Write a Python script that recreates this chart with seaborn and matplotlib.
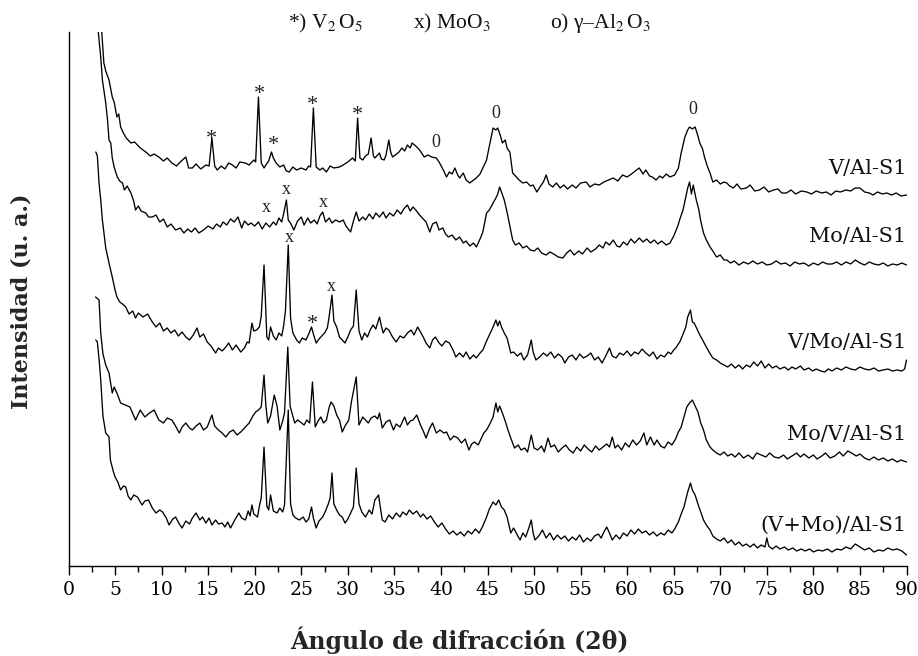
import matplotlib
matplotlib.use("Agg")
import matplotlib.pyplot as plt
from matplotlib.ticker import MultipleLocator
import seaborn as sns
import pandas as pd

# ---------------- data (2theta in degrees, intensity in a.u., stacked) ----------------
samples = ["V/Al-S1", "Mo/Al-S1", "V/Mo/Al-S1", "Mo/V/Al-S1", "(V+Mo)/Al-S1"]

v_al = [(3.35, 580), (3.57, 534), (3.8, 503), (4.0, 495), (4.35, 486), (4.7, 469), (4.9, 464), (5.2, 449),
        (5.4, 452), (5.6, 439), (5.9, 433), (6.2, 428), (6.7, 423), (7.1, 424), (7.6, 419), (8.0, 416),
        (8.3, 414), (8.8, 410), (9.2, 412), (9.7, 409), (10.2, 405), (10.6, 408), (11.1, 403), (11.6, 400),
        (12.0, 404), (12.6, 409), (12.9, 398), (13.3, 398), (13.7, 402), (14.2, 397), (14.75, 401), (15.1, 400),
        (15.4, 428), (15.7, 400), (15.97, 396), (16.4, 400), (16.8, 397), (17.2, 403), (17.6, 401), (18.0, 398),
        (18.4, 404), (19.0, 403), (19.4, 401), (19.9, 406), (20.1, 404), (20.4, 469), (20.7, 403), (21.0, 398),
        (21.2, 401), (21.5, 405), (21.8, 414), (22.0, 408), (22.3, 403), (22.7, 399), (23.1, 401), (23.4, 395),
        (23.7, 394), (24.1, 399), (24.5, 396), (25.0, 398), (25.5, 396), (25.8, 400), (26.0, 399), (26.3, 458),
        (26.6, 399), (27.0, 396), (27.3, 398), (27.7, 394), (28.1, 400), (28.5, 398), (29.1, 399), (29.5, 401),
        (30.0, 404), (30.5, 408), (30.8, 405), (31.05, 448), (31.3, 408), (31.6, 406), (31.9, 410), (32.2, 412),
        (32.5, 428), (32.75, 410), (32.9, 408), (33.2, 411), (33.4, 413), (33.6, 407), (33.9, 406), (34.1, 411),
        (34.4, 426), (34.6, 414), (34.8, 409), (35.1, 411), (35.5, 414), (35.8, 418), (36.1, 415), (36.4, 421),
        (36.7, 418), (36.9, 423), (37.3, 420), (37.7, 416), (38.0, 412), (38.2, 409), (38.6, 411), (39.0, 409),
        (39.5, 408), (39.8, 404), (40.2, 397), (40.6, 389), (40.9, 394), (41.2, 392), (41.5, 398), (41.8, 391),
        (42.0, 388), (42.4, 393), (42.7, 386), (43.1, 383), (43.5, 386), (43.8, 388), (44.2, 392), (44.5, 398),
        (44.9, 406), (45.2, 420), (45.6, 438), (45.9, 436), (46.1, 438), (46.4, 430), (46.6, 423), (46.9, 426),
        (47.1, 418), (47.4, 414), (47.7, 393), (48.0, 390), (48.4, 386), (48.8, 383), (49.2, 384), (49.6, 380),
        (49.9, 381), (50.3, 374), (50.7, 380), (51.0, 384), (51.3, 391), (51.6, 382), (52.0, 379), (52.4, 383),
        (52.8, 378), (53.2, 381), (53.6, 377), (54.1, 381), (54.5, 378), (55.0, 383), (55.6, 384), (56.0, 379),
        (56.5, 382), (57.0, 381), (57.5, 384), (58.0, 386), (58.5, 388), (59.0, 385), (59.5, 391), (60.0, 389),
        (60.6, 393), (61.0, 396), (61.3, 398), (61.7, 392), (62.0, 396), (62.4, 390), (62.7, 389), (63.1, 386),
        (63.5, 390), (63.8, 388), (64.2, 392), (64.6, 389), (65.1, 391), (65.5, 398), (65.8, 413), (66.2, 429),
        (66.5, 436), (66.7, 439), (67.0, 437), (67.3, 439), (67.6, 430), (67.8, 423), (68.1, 417), (68.3, 409),
        (68.6, 400), (68.9, 393), (69.2, 384), (69.6, 386), (70.0, 382), (70.4, 384), (70.7, 383), (71.0, 380),
        (71.4, 378), (71.8, 382), (72.2, 377), (72.8, 378), (73.2, 381), (73.7, 375), (74.2, 376), (74.7, 379),
        (75.2, 374), (75.7, 376), (76.2, 377), (76.6, 373), (77.1, 373), (77.6, 376), (78.1, 372), (78.7, 375),
        (79.3, 374), (79.8, 372), (80.3, 375), (80.9, 373), (81.4, 374), (81.9, 371), (82.4, 375), (82.9, 374),
        (83.5, 376), (84.0, 375), (84.5, 378), (85.0, 378), (85.5, 374), (86.0, 373), (86.4, 371), (86.9, 374),
        (87.4, 372), (87.9, 373), (88.4, 371), (88.9, 373), (89.4, 370), (90.0, 371)]

mo_al = [(3.0, 580), (3.2, 534), (3.46, 509), (3.64, 486), (4.0, 463), (4.2, 445), (4.35, 426), (4.54, 423),
         (4.7, 408), (4.9, 399), (5.1, 393), (5.25, 389), (5.5, 385), (5.8, 383), (6.0, 376), (6.3, 380),
         (6.7, 373), (7.0, 365), (7.2, 356), (7.5, 360), (7.8, 355), (8.3, 353), (8.6, 349), (9.0, 349),
         (9.4, 351), (9.8, 344), (10.2, 347), (10.6, 339), (11.0, 342), (11.5, 336), (12.0, 338), (12.4, 333),
         (12.8, 337), (13.2, 334), (13.6, 338), (14.0, 333), (14.5, 336), (15.0, 340), (15.5, 337), (15.9, 342),
         (16.3, 339), (16.6, 344), (17.0, 341), (17.4, 347), (17.8, 344), (18.2, 349), (18.6, 338), (18.9, 345),
         (19.3, 341), (19.6, 343), (20.0, 340), (20.4, 344), (20.8, 337), (21.2, 343), (21.6, 339), (22.0, 344),
         (22.3, 341), (22.6, 348), (22.9, 344), (23.1, 352), (23.4, 366), (23.6, 346), (23.9, 342), (24.2, 336),
         (24.6, 345), (25.0, 349), (25.3, 341), (25.7, 348), (26.0, 343), (26.4, 346), (26.7, 342), (27.0, 350),
         (27.3, 354), (27.6, 344), (28.0, 348), (28.3, 343), (28.7, 346), (29.1, 344), (29.5, 346), (29.8, 340),
         (30.3, 334), (30.6, 345), (30.9, 354), (31.2, 345), (31.6, 349), (31.9, 346), (32.3, 352), (32.7, 347),
         (33.0, 353), (33.4, 349), (33.8, 354), (34.1, 348), (34.5, 353), (34.9, 350), (35.3, 356), (35.7, 352),
         (36.0, 357), (36.4, 361), (36.7, 355), (37.0, 359), (37.3, 356), (37.7, 351), (38.0, 348), (38.4, 344),
         (38.8, 334), (39.1, 342), (39.5, 344), (39.8, 336), (40.2, 338), (40.5, 332), (40.8, 329), (41.2, 331),
         (41.6, 326), (42.0, 329), (42.4, 323), (42.7, 325), (43.1, 320), (43.5, 323), (43.8, 319), (44.2, 327),
         (44.5, 334), (44.9, 353), (45.2, 356), (45.6, 363), (45.9, 368), (46.1, 372), (46.3, 379), (46.5, 374),
         (46.8, 366), (47.1, 354), (47.4, 340), (47.7, 326), (48.0, 321), (48.4, 323), (48.8, 318), (49.2, 320),
         (49.6, 316), (50.0, 315), (50.4, 318), (50.8, 313), (51.3, 311), (51.7, 314), (52.1, 312), (52.6, 309),
         (53.1, 308), (53.5, 313), (53.9, 316), (54.3, 311), (54.8, 315), (55.2, 312), (55.7, 318), (56.1, 314),
         (56.6, 317), (57.0, 321), (57.4, 318), (57.7, 324), (58.1, 321), (58.5, 326), (58.9, 320), (59.2, 319),
         (59.6, 324), (60.0, 321), (60.4, 327), (60.8, 323), (61.3, 328), (61.7, 324), (62.1, 327), (62.5, 323),
         (62.9, 326), (63.3, 322), (63.7, 325), (64.2, 321), (64.6, 323), (65.0, 330), (65.4, 339), (65.7, 348),
         (66.0, 356), (66.3, 369), (66.5, 378), (66.7, 384), (66.9, 372), (67.1, 381), (67.4, 367), (67.7, 356),
         (67.9, 345), (68.2, 333), (68.5, 326), (68.9, 319), (69.2, 315), (69.6, 309), (70.0, 311), (70.4, 306),
         (70.7, 306), (71.1, 303), (71.5, 305), (72.0, 301), (72.5, 304), (73.0, 302), (73.5, 305), (74.0, 302),
         (74.5, 304), (75.0, 301), (75.5, 302), (76.0, 305), (76.5, 302), (77.0, 303), (77.5, 300), (78.0, 304),
         (78.5, 302), (79.0, 303), (79.5, 300), (80.0, 303), (80.5, 301), (81.0, 304), (81.5, 302), (82.0, 302),
         (82.5, 304), (83.0, 301), (83.5, 304), (84.0, 302), (84.5, 306), (85.0, 303), (85.5, 301), (86.0, 304),
         (86.5, 302), (87.0, 301), (87.5, 303), (88.0, 300), (88.5, 302), (89.0, 301), (89.5, 303), (90.0, 301)]

v_mo_al = [(2.93, 414), (3.1, 410), (3.28, 383), (3.46, 366), (3.64, 346), (4.0, 318), (4.35, 303), (4.7, 289),
           (5.0, 276), (5.2, 269), (5.5, 264), (5.8, 262), (6.15, 259), (6.5, 252), (6.9, 255), (7.2, 248),
           (7.5, 253), (8.0, 249), (8.5, 252), (9.0, 244), (9.4, 239), (9.8, 243), (10.2, 235), (10.6, 238),
           (11.0, 233), (11.4, 236), (11.8, 230), (12.2, 234), (12.6, 229), (13.0, 226), (13.4, 231), (13.8, 238),
           (14.1, 229), (14.5, 232), (14.9, 224), (15.3, 220), (15.8, 213), (16.1, 218), (16.5, 215), (16.9, 219),
           (17.2, 223), (17.6, 216), (18.0, 221), (18.5, 214), (18.9, 218), (19.2, 224), (19.4, 223), (19.7, 243),
           (19.9, 235), (20.2, 236), (20.5, 239), (20.7, 250), (21.0, 301), (21.3, 229), (21.5, 226), (21.7, 239),
           (22.0, 230), (22.3, 226), (22.6, 233), (22.9, 230), (23.1, 240), (23.3, 255), (23.6, 321), (23.85, 248),
           (24.1, 233), (24.5, 226), (24.8, 223), (25.1, 228), (25.5, 226), (25.8, 232), (26.1, 239), (26.3, 232),
           (26.6, 223), (26.9, 227), (27.2, 230), (27.5, 233), (27.8, 238), (28.0, 250), (28.3, 271), (28.5, 245),
           (28.8, 239), (29.1, 229), (29.4, 226), (29.7, 223), (30.0, 229), (30.3, 236), (30.6, 240), (30.9, 276),
           (31.2, 235), (31.5, 226), (31.8, 233), (32.1, 229), (32.4, 236), (32.7, 241), (33.0, 237), (33.4, 249),
           (33.6, 240), (33.8, 233), (34.1, 238), (34.4, 236), (34.8, 229), (35.2, 224), (35.6, 230), (36.0, 228),
           (36.4, 233), (36.8, 236), (37.1, 231), (37.5, 239), (37.8, 234), (38.1, 229), (38.4, 223), (38.8, 218),
           (39.1, 226), (39.4, 229), (39.8, 223), (40.1, 220), (40.5, 225), (40.9, 223), (41.3, 216), (41.6, 209),
           (42.0, 213), (42.4, 209), (42.7, 214), (43.1, 207), (43.5, 211), (43.8, 208), (44.2, 213), (44.5, 216),
           (44.9, 225), (45.3, 233), (45.6, 239), (45.9, 246), (46.1, 240), (46.3, 245), (46.5, 239), (46.8, 233),
           (47.1, 228), (47.5, 213), (47.8, 214), (48.2, 210), (48.6, 213), (48.9, 206), (49.3, 211), (49.7, 226),
           (49.9, 214), (50.2, 206), (50.6, 209), (51.0, 213), (51.4, 210), (51.8, 214), (52.2, 208), (52.6, 212),
           (53.0, 209), (53.3, 203), (53.7, 209), (54.1, 211), (54.5, 206), (54.9, 212), (55.3, 208), (55.7, 210),
           (56.1, 213), (56.5, 206), (56.9, 209), (57.3, 203), (57.7, 210), (58.1, 218), (58.4, 210), (58.8, 208),
           (59.2, 213), (59.6, 211), (60.0, 215), (60.4, 210), (60.8, 214), (61.2, 212), (61.6, 217), (62.0, 213),
           (62.4, 210), (62.8, 214), (63.2, 207), (63.6, 211), (64.0, 209), (64.4, 214), (64.7, 212), (65.0, 216),
           (65.3, 219), (65.7, 225), (66.0, 232), (66.3, 239), (66.5, 249), (66.8, 256), (67.0, 244), (67.2, 243),
           (67.5, 237), (67.8, 231), (68.1, 226), (68.5, 219), (68.8, 214), (69.2, 208), (69.6, 206), (70.0, 203),
           (70.4, 201), (70.8, 199), (71.2, 202), (71.6, 198), (72.0, 201), (72.4, 197), (72.8, 201), (73.2, 199),
           (73.6, 204), (74.0, 200), (74.4, 205), (74.8, 198), (75.2, 202), (75.6, 198), (76.0, 200), (76.4, 197),
           (76.9, 199), (77.3, 196), (77.7, 199), (78.1, 197), (78.6, 200), (79.0, 196), (79.5, 198), (79.9, 195),
           (80.3, 197), (80.8, 195), (81.2, 194), (81.6, 197), (82.0, 195), (82.5, 198), (83.0, 196), (83.5, 199),
           (84.0, 197), (84.5, 196), (85.0, 199), (85.5, 197), (86.0, 196), (86.5, 198), (87.0, 195), (87.5, 196),
           (88.0, 197), (88.5, 195), (89.0, 196), (89.5, 195), (89.8, 197), (90.0, 206)]

mo_v_al = [(2.9, 269), (3.28, 266), (3.46, 233), (3.7, 212), (4.0, 201), (4.35, 193), (4.7, 173), (4.9, 179),
           (5.2, 173), (5.6, 163), (6.1, 161), (6.6, 159), (7.2, 146), (7.7, 156), (8.2, 149), (8.7, 153),
           (9.2, 156), (9.7, 146), (10.2, 143), (10.6, 148), (11.1, 146), (11.5, 140), (11.9, 133), (12.2, 139),
           (12.6, 143), (13.0, 138), (13.3, 136), (13.7, 140), (14.1, 143), (14.5, 136), (14.9, 139), (15.4, 151),
           (15.7, 140), (16.1, 136), (16.5, 133), (16.9, 129), (17.3, 134), (17.7, 136), (18.1, 131), (18.5, 134),
           (18.9, 138), (19.4, 143), (19.8, 150), (20.1, 154), (20.4, 156), (20.7, 159), (21.0, 191), (21.2, 160),
           (21.4, 143), (21.7, 150), (22.1, 171), (22.4, 160), (22.7, 136), (23.0, 145), (23.2, 153), (23.55, 219),
           (23.8, 160), (24.0, 153), (24.3, 143), (24.6, 146), (24.9, 144), (25.3, 141), (25.6, 146), (25.9, 143),
           (26.2, 184), (26.5, 139), (26.8, 145), (27.1, 149), (27.4, 143), (27.7, 146), (28.0, 159), (28.2, 164),
           (28.5, 160), (28.8, 151), (29.1, 146), (29.4, 134), (29.7, 140), (30.1, 146), (30.4, 165), (30.9, 189),
           (31.2, 141), (31.6, 149), (31.9, 146), (32.2, 143), (32.5, 148), (32.9, 150), (33.2, 147), (33.4, 153),
           (33.7, 138), (34.1, 144), (34.5, 146), (34.9, 136), (35.2, 142), (35.6, 139), (36.1, 149), (36.4, 141),
           (36.7, 145), (37.0, 146), (37.4, 151), (37.8, 141), (38.1, 135), (38.4, 128), (38.8, 138), (39.1, 143),
           (39.5, 133), (39.9, 136), (40.3, 133), (40.6, 134), (41.0, 126), (41.4, 130), (41.8, 128), (42.2, 123),
           (42.6, 127), (43.0, 116), (43.3, 122), (43.6, 124), (44.0, 121), (44.3, 127), (44.6, 133), (44.9, 136),
           (45.3, 143), (45.6, 149), (45.9, 163), (46.1, 154), (46.3, 160), (46.6, 153), (46.9, 145), (47.2, 136),
           (47.5, 128), (47.9, 118), (48.3, 121), (48.6, 116), (49.0, 118), (49.3, 114), (49.7, 131), (50.0, 118),
           (50.4, 116), (50.8, 120), (51.1, 114), (51.5, 128), (51.8, 119), (52.2, 121), (52.6, 114), (53.0, 118),
           (53.4, 121), (53.8, 116), (54.2, 113), (54.6, 119), (55.0, 115), (55.4, 121), (55.8, 117), (56.2, 114),
           (56.6, 120), (57.0, 116), (57.4, 119), (57.8, 122), (58.1, 119), (58.4, 129), (58.7, 118), (59.0, 121),
           (59.4, 116), (59.8, 123), (60.2, 119), (60.6, 126), (61.0, 121), (61.4, 125), (61.8, 133), (62.1, 121),
           (62.5, 129), (62.9, 121), (63.2, 126), (63.6, 120), (64.0, 118), (64.4, 124), (64.8, 121), (65.2, 127),
           (65.5, 134), (65.8, 139), (66.1, 149), (66.4, 159), (66.7, 163), (67.0, 166), (67.3, 160), (67.6, 154),
           (67.9, 143), (68.2, 136), (68.5, 126), (68.9, 119), (69.2, 116), (69.6, 113), (70.0, 111), (70.4, 114),
           (70.8, 110), (71.2, 112), (71.6, 109), (72.0, 113), (72.5, 108), (73.0, 111), (73.5, 107), (73.9, 113),
           (74.4, 111), (74.9, 109), (75.3, 113), (75.8, 109), (76.3, 108), (76.8, 111), (77.2, 107), (77.7, 110),
           (78.2, 113), (78.6, 109), (79.0, 112), (79.5, 108), (80.0, 111), (80.4, 107), (80.9, 110), (81.3, 113),
           (81.8, 108), (82.3, 110), (82.8, 114), (83.2, 110), (83.7, 115), (84.1, 113), (84.6, 110), (85.0, 112),
           (85.5, 108), (86.0, 106), (86.5, 109), (87.0, 106), (87.5, 108), (88.0, 105), (88.5, 107), (89.0, 104),
           (89.4, 106), (90.0, 104)]

vmo_al = [(2.93, 226), (3.1, 224), (3.3, 205), (3.46, 186), (3.7, 150), (4.0, 133), (4.35, 129), (4.5, 106),
          (4.8, 95), (5.0, 89), (5.3, 84), (5.6, 76), (5.9, 80), (6.15, 79), (6.4, 70), (6.7, 66), (7.0, 71),
          (7.4, 69), (7.9, 61), (8.2, 65), (8.6, 66), (9.0, 58), (9.4, 53), (9.8, 56), (10.1, 54), (10.5, 48),
          (10.8, 41), (11.2, 47), (11.5, 49), (11.9, 42), (12.2, 38), (12.6, 45), (13.0, 42), (13.3, 48),
          (13.7, 53), (14.1, 46), (14.4, 49), (14.75, 43), (15.1, 48), (15.4, 41), (15.8, 46), (16.1, 42),
          (16.5, 43), (16.8, 39), (17.1, 44), (17.4, 38), (17.8, 45), (18.3, 53), (18.6, 48), (19.0, 46),
          (19.3, 55), (19.5, 50), (19.7, 61), (19.9, 52), (20.3, 49), (20.5, 60), (20.7, 68), (21.0, 119),
          (21.3, 60), (21.5, 56), (21.7, 71), (22.0, 55), (22.4, 53), (22.7, 58), (23.0, 54), (23.2, 61),
          (23.6, 156), (23.85, 62), (24.1, 51), (24.4, 48), (24.8, 46), (25.2, 49), (25.5, 44), (25.8, 47),
          (26.1, 59), (26.3, 48), (26.6, 38), (26.9, 45), (27.3, 49), (27.6, 55), (27.9, 62), (28.1, 68),
          (28.3, 93), (28.5, 62), (28.8, 56), (29.1, 51), (29.4, 49), (29.7, 43), (30.0, 47), (30.3, 53),
          (30.6, 59), (30.9, 98), (31.2, 62), (31.5, 54), (31.9, 49), (32.3, 56), (32.6, 52), (32.9, 66),
          (33.3, 71), (33.5, 58), (33.7, 46), (34.0, 44), (34.4, 51), (34.8, 47), (35.2, 53), (35.6, 49),
          (35.9, 54), (36.3, 51), (36.6, 56), (37.0, 52), (37.4, 55), (37.8, 49), (38.1, 52), (38.5, 47),
          (38.9, 50), (39.3, 44), (39.7, 39), (40.1, 43), (40.5, 37), (40.9, 32), (41.3, 35), (41.7, 31),
          (42.1, 34), (42.5, 30), (42.9, 35), (43.3, 32), (43.7, 37), (44.1, 33), (44.5, 40), (44.9, 49),
          (45.2, 57), (45.6, 64), (45.9, 61), (46.2, 66), (46.5, 59), (46.8, 56), (47.1, 49), (47.5, 33),
          (47.8, 38), (48.2, 31), (48.5, 26), (48.8, 33), (49.1, 29), (49.4, 37), (49.7, 46), (49.9, 33),
          (50.1, 26), (50.5, 30), (50.9, 36), (51.3, 28), (51.7, 33), (52.1, 26), (52.5, 31), (52.9, 27),
          (53.3, 30), (53.7, 25), (54.1, 29), (54.5, 26), (54.9, 31), (55.3, 24), (55.7, 28), (56.1, 25),
          (56.5, 30), (56.9, 32), (57.2, 28), (57.5, 34), (57.8, 39), (58.1, 33), (58.4, 26), (58.8, 31),
          (59.2, 27), (59.6, 33), (60.0, 30), (60.4, 36), (60.8, 32), (61.2, 37), (61.6, 33), (62.0, 35),
          (62.4, 31), (62.8, 34), (63.2, 30), (63.6, 33), (64.0, 31), (64.4, 36), (64.8, 33), (65.1, 37),
          (65.5, 44), (65.8, 52), (66.1, 59), (66.5, 74), (66.8, 83), (67.0, 76), (67.3, 71), (67.6, 62),
          (67.9, 54), (68.2, 46), (68.5, 41), (68.9, 36), (69.2, 30), (69.6, 27), (70.0, 25), (70.4, 28),
          (70.8, 23), (71.2, 26), (71.6, 21), (72.0, 24), (72.4, 20), (72.8, 22), (73.2, 19), (73.6, 22),
          (74.0, 18), (74.4, 21), (74.8, 19), (75.0, 28), (75.2, 20), (75.6, 17), (76.0, 20), (76.4, 17),
          (76.9, 19), (77.3, 16), (77.8, 18), (78.2, 15), (78.7, 17), (79.1, 15), (79.6, 17), (80.0, 14),
          (80.5, 16), (81.0, 15), (81.5, 17), (82.0, 14), (82.5, 17), (83.0, 16), (83.5, 19), (84.0, 17),
          (84.5, 22), (85.0, 19), (85.5, 16), (86.0, 18), (86.5, 14), (87.0, 16), (87.5, 15), (88.0, 18),
          (88.5, 16), (89.0, 17), (89.5, 15), (90.0, 11)]

# phase markers: symbol and the reflection it marks (2theta)
marker_symbols = ["*", "*", "*", "*", "*", "0", "0", "0", "x", "x", "x", "x", "x", "*"]
marker_two_theta = [15.4, 20.5, 22.0, 26.2, 31.05, 39.5, 45.9, 67.0, 21.2, 23.4, 27.4, 23.7, 28.2, 26.2]

x_ticks = list(range(0, 91, 5))

# ---------------- styling / layout ----------------
sns.set_theme(style="ticks")
plt.rcParams["font.family"] = ["DejaVu Serif"]
plt.rcParams["mathtext.fontset"] = "stix"

W, H = 918, 656
fig = plt.figure(figsize=(W / 100, H / 100), dpi=100)
ax = fig.add_axes([68.5 / W, 90 / H, (906.5 - 68.5) / W, 534 / H])

for name, pts in zip(samples, [v_al, mo_al, v_mo_al, mo_v_al, vmo_al]):
    df = pd.DataFrame(pts, columns=["two_theta", "intensity"])
    sns.lineplot(data=df, x="two_theta", y="intensity", estimator=None, sort=False,
                 color="black", lw=0.95, ax=ax)

label_y = [398, 330, 223, 132, 41]
for name, ly in zip(samples, label_y):
    ax.text(90, ly, name, ha="right", va="center", fontsize=15, color="#111111")

# glyph-centre heights of the markers, and per-symbol font size / baseline offset
marker_y = [433, 478, 427, 467, 457, 425, 454, 458, 358, 376, 363, 328, 279, 248]
sym_style = {"*": (16, 11), "x": (13, 4), "0": (13, 6)}
for s, mx, my in zip(marker_symbols, marker_two_theta, marker_y):
    fs, off = sym_style[s]
    ax.text(mx, my - off, s, ha="center", va="baseline", fontsize=fs,
            family="Liberation Serif", color="#222222")

ax.set_xlim(0, 90)
ax.set_ylim(0, 534)
ax.set_xticks(x_ticks)
ax.xaxis.set_minor_locator(MultipleLocator(2.5))
ax.set_yticks([])
ax.tick_params(axis="x", which="major", direction="out", length=6.5, width=1.0,
               labelsize=13.5, pad=4, color="black", labelcolor="black")
ax.tick_params(axis="x", which="minor", direction="out", length=4, width=1.0, color="black")
ax.spines[["top", "right"]].set_visible(False)
for sp in ["left", "bottom"]:
    ax.spines[sp].set_linewidth(1.0)
    ax.spines[sp].set_color("black")

ax.set_xlabel("Ángulo de difracción (2θ)", fontsize=17, fontweight="bold", va="center")
ax.xaxis.set_label_coords((459 - 68.5) / 838, (566 - 640) / 534)
ax.set_ylabel("Intensidad (u. a.)", fontsize=16, fontweight="bold", va="center")
ax.yaxis.set_label_coords((22 - 68.5) / 838, (566 - 301) / 534)

legend_parts = [r"*) V$_{2}\,$O$_{5}$", r"x) MoO$_{3}$", r"o) γ–Al$_{2}\,$O$_{3}$"]
legend_x = [288, 413, 550]
for txt, lx in zip(legend_parts, legend_x):
    fig.text(lx / W, 1 - 28.3 / H, txt, ha="left", va="baseline", fontsize=15.5,
             family="Liberation Serif", color="#111111")

fig.savefig("out.png", dpi=100)
